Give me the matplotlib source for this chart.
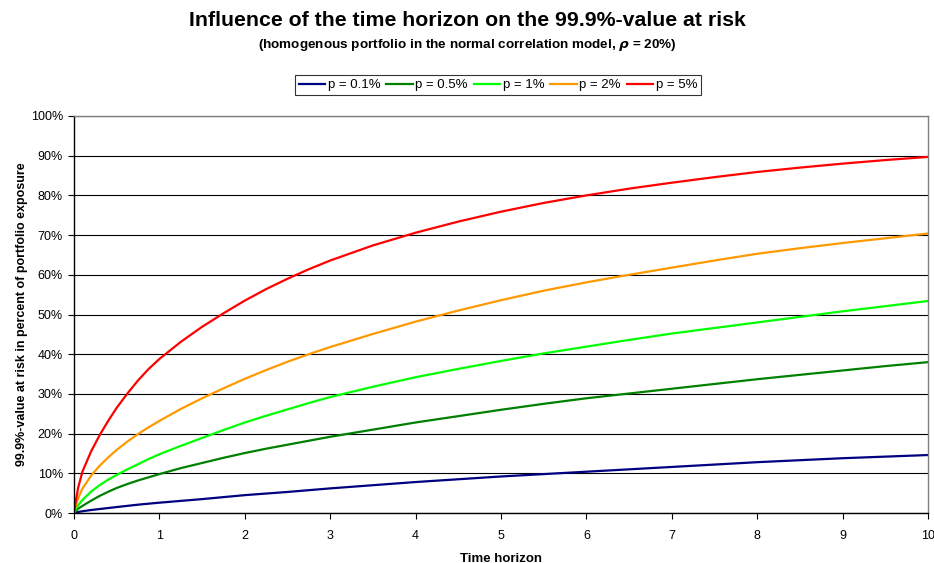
import matplotlib
matplotlib.use("Agg")
import matplotlib.pyplot as plt
from matplotlib.ticker import FuncFormatter, MultipleLocator

# ---- data ----
horizon = [0, 0.025, 0.05, 0.1, 0.2, 0.3, 0.4, 0.5, 0.625, 0.75, 0.875, 1,
           1.25, 1.5, 1.75, 2, 2.25, 2.5, 2.75, 3, 3.5, 4, 4.5, 5, 5.5, 6,
           6.5, 7, 7.5, 8, 8.5, 9, 9.5, 10]
var_p01 = [0, 0.1, 0.25, 0.45, 0.75, 1.0, 1.25, 1.5, 1.8, 2.1, 2.35, 2.6,
           3.05, 3.5, 4.0, 4.5, 4.9, 5.3, 5.75, 6.2, 7.0, 7.8, 8.5, 9.2, 9.8, 10.4,
           11.0, 11.6, 12.2, 12.8, 13.3, 13.8, 14.2, 14.6]
var_p05 = [0, 0.6, 1.1, 1.8, 3.1, 4.3, 5.35, 6.3, 7.3, 8.2, 9.0, 9.8,
           11.3, 12.6, 13.9, 15.1, 16.2, 17.2, 18.2, 19.2, 21.0, 22.8, 24.4, 26.0, 27.5, 28.9,
           30.1, 31.3, 32.5, 33.7, 34.8, 35.9, 37.0, 38.0]
var_p1 = [0, 1.2, 2.0, 3.3, 5.4, 7.0, 8.4, 9.6, 11.0, 12.3, 13.6, 14.8,
          16.9, 18.9, 20.9, 22.8, 24.5, 26.1, 27.7, 29.2, 31.8, 34.2, 36.3, 38.3, 40.2, 41.9,
          43.6, 45.2, 46.6, 48.0, 49.4, 50.8, 52.1, 53.4]
var_p2 = [0, 2.2, 3.8, 6.2, 9.4, 11.9, 14.0, 15.9, 18.0, 19.9, 21.6, 23.2,
          26.2, 28.9, 31.4, 33.8, 36.0, 38.1, 40.0, 41.8, 45.1, 48.2, 51.0, 53.6, 56.0, 58.1,
          60.0, 61.8, 63.6, 65.3, 66.7, 68.0, 69.2, 70.4]
var_p5 = [0, 3.5, 6.5, 10.5, 15.5, 19.6, 23.2, 26.5, 30.1, 33.4, 36.3, 38.8,
          43.1, 46.9, 50.3, 53.5, 56.4, 59.0, 61.4, 63.6, 67.4, 70.6, 73.4, 75.9, 78.1, 80.0,
          81.7, 83.2, 84.6, 85.9, 87.0, 88.0, 88.9, 89.7]

series_labels = ["p = 0.1%", "p = 0.5%", "p = 1%", "p = 2%", "p = 5%"]
series_values = [var_p01, var_p05, var_p1, var_p2, var_p5]
series_colors = ["#000080", "#008000", "#00FF00", "#FF9900", "#FF0000"]

title = "Influence of the time horizon on the 99.9%-value at risk"
subtitle = r"(homogenous portfolio in the normal correlation model, $\boldsymbol{\rho}$ = 20%)"
xlabel = "Time horizon"
ylabel = "99.9%-value at risk in percent of portfolio exposure"

plt.rcParams['font.family'] = ['Liberation Sans', 'DejaVu Sans']
plt.rcParams['mathtext.fontset'] = 'dejavusans'

fig = plt.figure(figsize=(9.34, 5.63), dpi=100)
ax = fig.add_axes([74/934, 1-513/563, (928-74)/934, (513-116)/563])

for lab, vals, col in zip(series_labels, series_values, series_colors):
    ax.plot(horizon, vals, color=col, lw=1.6, label=lab, solid_joinstyle='round')

ax.set_xlim(0, 10)
ax.set_ylim(0, 100)
ax.xaxis.set_major_locator(MultipleLocator(1))
ax.yaxis.set_major_locator(MultipleLocator(10))
ax.yaxis.set_major_formatter(FuncFormatter(lambda v, p: f"{int(round(v))}%"))
ax.grid(axis='y', color='black', lw=0.8)
ax.set_axisbelow(True)
ax.tick_params(axis='both', labelsize=9, direction='out', length=4, width=0.8, color='black')
ax.tick_params(axis='y', pad=4)
ax.tick_params(axis='x', pad=8)
for s in ['left', 'bottom']:
    ax.spines[s].set_color('black')
    ax.spines[s].set_linewidth(1.0)
for s in ['top', 'right']:
    ax.spines[s].set_color('#808080')
    ax.spines[s].set_linewidth(1.0)

ax.set_xlabel(xlabel, fontsize=9.5, fontweight='bold', labelpad=8)
ax.set_ylabel(ylabel, fontsize=9, fontweight='bold')
ax.yaxis.set_label_coords(-0.054, 0.5)

fig.text(0.5, 1-20/563, title, ha='center', va='center', fontsize=15.3, fontweight='bold')
fig.text(0.5, 1-45/563, subtitle, ha='center', va='center', fontsize=9.7, fontweight='bold')

leg = fig.legend(loc='center', bbox_to_anchor=(498/934, 1-85/563), ncol=5, fontsize=9.5,
                 frameon=True, fancybox=False, edgecolor='black', handlelength=2.0,
                 handletextpad=0.2, columnspacing=0.45, borderpad=0.3, borderaxespad=0)
leg.get_frame().set_linewidth(0.8)

fig.savefig("out.png", dpi=100)
